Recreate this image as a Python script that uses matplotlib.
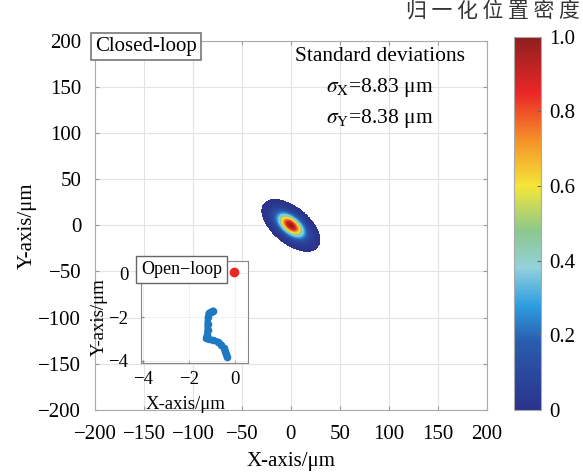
import numpy as np
import matplotlib.pyplot as plt
from matplotlib.colors import LinearSegmentedColormap

plt.rcParams['font.family'] = ['Liberation Serif', 'DejaVu Serif']
plt.rcParams['mathtext.fontset'] = 'stix'

# closed-loop statistics (um)
sigma_x = 8.83
sigma_y = 8.38
rho = -0.55          # x/y correlation of the spot drift
center = (0.0, 0.0)

# open-loop drift track (um)
open_x = [-0.95, -1.05, -1.15, -1.18, -1.2, -1.2, -1.22, -1.25, -1.15,
          -0.95, -0.75, -0.6, -0.5, -0.45, -0.4, -0.36]
open_y = [-1.7, -1.75, -1.82, -2.0, -2.3, -2.6, -2.8, -2.95, -3.02,
          -3.05, -3.12, -3.25, -3.4, -3.55, -3.7, -3.8]
open_start = (-0.03, 0.05)

ticks_main = [-200, -150, -100, -50, 0, 50, 100, 150, 200]
cbar_ticks = [0, 0.2, 0.4, 0.6, 0.8, 1.0]
cbar_labels = ['0', '0.2', '0.4', '0.6', '0.8', '1.0']

cmap = LinearSegmentedColormap.from_list('dens', [
    (0.00, (0.17, 0.20, 0.55)),
    (0.18, (0.16, 0.36, 0.68)),
    (0.28, (0.18, 0.62, 0.88)),
    (0.38, (0.58, 0.82, 0.86)),
    (0.48, (0.55, 0.78, 0.55)),
    (0.60, (0.96, 0.90, 0.22)),
    (0.72, (0.96, 0.58, 0.16)),
    (0.85, (0.92, 0.15, 0.15)),
    (1.00, (0.56, 0.12, 0.12)),
])

# normalised position density from the measured spread
gx = np.linspace(-60, 60, 481)
gy = np.linspace(-60, 60, 481)
X, Y = np.meshgrid(gx, gy)
dx = (X - center[0]) / sigma_x
dy = (Y - center[1]) / sigma_y
q = (dx**2 - 2 * rho * dx * dy + dy**2) / (1 - rho**2)
dens = np.exp(-0.5 * q)
dens = np.ma.masked_less(dens, 0.003)

fig = plt.figure(figsize=(5.83, 4.76), dpi=100)
ax = fig.add_axes([0.163, 0.139, 0.672, 0.775])
pc = ax.pcolormesh(X, Y, dens, cmap=cmap, vmin=0, vmax=1, shading='auto')
ax.set_xlim(-200, 200)
ax.set_ylim(-200, 200)
ax.set_xticks(ticks_main)
ax.set_yticks(ticks_main)
ax.set_xticklabels([str(t).replace('-', '\u2212') for t in ticks_main])
ax.set_yticklabels([str(t).replace('-', '\u2212') for t in ticks_main])
ax.tick_params(direction='in', length=3, labelsize=15, top=True, right=True,
               color='#999999')
ax.tick_params(axis='x', pad=11)
ax.tick_params(axis='y', pad=10)
ax.grid(True, color='#e3e3e3', linewidth=0.8)
ax.set_axisbelow(True)
for s in ax.spines.values():
    s.set_color('#aaaaaa')
ax.set_xlabel('X-axis/\u03bcm', fontsize=15, labelpad=6)
ax.set_ylabel('Y-axis/\u03bcm', fontsize=15, labelpad=1)

ax.text(0.0, 1.01, 'Closed-loop', transform=ax.transAxes, fontsize=15,
        ha='left', va='top',
        bbox=dict(boxstyle='square,pad=0.18', fc='white', ec='#777777', lw=1.2))
ax.text(0.727, 0.957, 'Standard deviations', transform=ax.transAxes,
        fontsize=15.5, ha='center', va='center')
ax.text(0.727, 0.873, r'$\sigma_{\mathrm{X}}$=%.2f ' % sigma_x + '\u03bcm',
        transform=ax.transAxes, fontsize=15.5, ha='center', va='center')
ax.text(0.727, 0.791, r'$\sigma_{\mathrm{Y}}$=%.2f ' % sigma_y + '\u03bcm',
        transform=ax.transAxes, fontsize=15.5, ha='center', va='center')

# inset: open-loop track
ins = fig.add_axes([0.242, 0.238, 0.183, 0.214])
ins.plot(open_x, open_y, color=(0.12, 0.47, 0.76), lw=4.5,
         solid_capstyle='round', solid_joinstyle='round')
ins.plot(open_x, open_y, 'o', color=(0.12, 0.47, 0.76), ms=4.5)
ins.plot(*open_start, 'o', color=(0.93, 0.15, 0.15), ms=6)
ins.set_xlim(-4.09, 0.55)
ins.set_ylim(-4.08, 0.57)
ins.set_xticks([-4, -2, 0])
ins.set_yticks([-4, -2, 0])
ins.set_xticklabels(['\u22124', '\u22122', '0'])
ins.set_yticklabels(['\u22124', '\u22122', '0'])
ins.tick_params(direction='in', length=2, labelsize=13.5, color='#888888')
ins.tick_params(axis='x', pad=6)
ins.tick_params(axis='y', pad=9)
ins.grid(True, color='#eeeeee', linewidth=0.6)
for s in ins.spines.values():
    s.set_color('#888888')
ins.set_xlabel('X-axis/\u03bcm', fontsize=13.5)
ins.set_ylabel('Y-axis/\u03bcm', fontsize=13.5)
ins.xaxis.set_label_coords(0.42, -0.33)
ins.yaxis.set_label_coords(-0.31, 0.45)
ins.text(0.0, 1.0, 'Open\u2212loop', transform=ins.transAxes, fontsize=13,
         ha='left', va='top',
         bbox=dict(boxstyle='square,pad=0.28', fc='white', ec='#666666', lw=1.0))

# colour bar
cax = fig.add_axes([0.882, 0.139, 0.046, 0.784])
cb = fig.colorbar(pc, cax=cax, ticks=cbar_ticks)
cb.ax.set_yticklabels(cbar_labels)
cb.ax.tick_params(labelsize=15, direction='in', length=3, color='#666666', pad=6)
cb.outline.set_edgecolor('#aaaaaa')
fig.text(0.995, 0.975, '归 一 化 位 置 密 度', fontsize=15, ha='right', va='center',
         family=['Noto Sans CJK SC', 'DejaVu Sans'], color='#333333')

fig.savefig('out.png', dpi=100)
